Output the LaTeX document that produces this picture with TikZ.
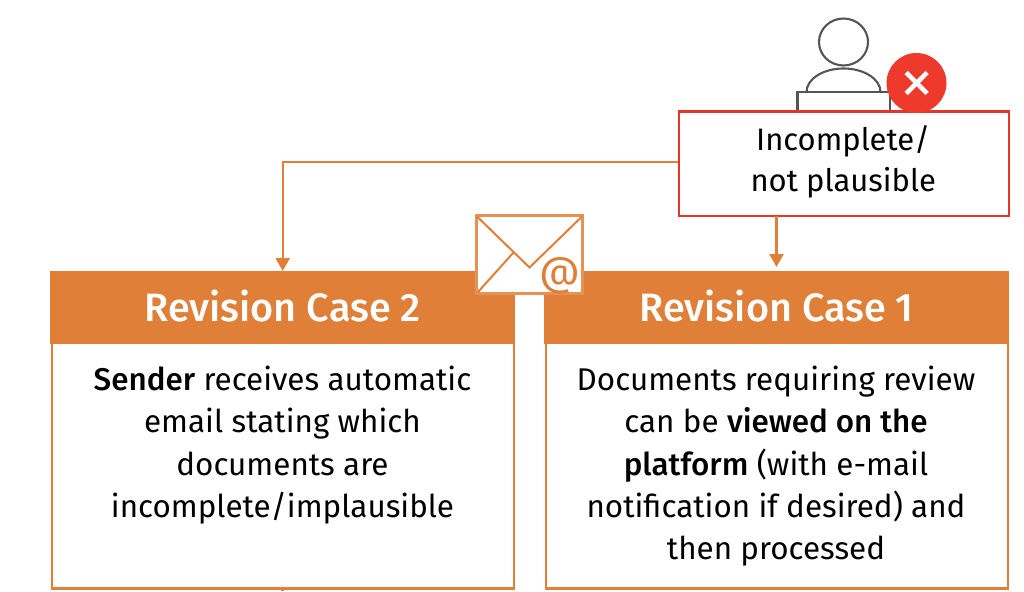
\documentclass[tikz,border=0pt]{standalone}
\usepackage{fontspec}
\setmainfont[BoldFont=* Medium]{Fira Sans}
\definecolor{org}{HTML}{E07F38}
\definecolor{redb}{HTML}{E5352B}
\definecolor{redc}{HTML}{EE3A2C}
\definecolor{gry}{HTML}{555555}
\usetikzlibrary{arrows.meta}
\newcommand{\liftup}[1]{\raisebox{2pt}[\height][\depth]{#1}}
\tikzset{
 bodybox/.style={draw=org,line width=2.8pt,fill=white,anchor=north west,minimum width=462pt,minimum height=315pt,inner sep=0pt},
 headbox/.style={fill=org,text=white,anchor=north west,minimum width=465pt,minimum height=73pt,inner sep=0pt,font=\fontsize{39.6}{42}\selectfont\bfseries},
 bodytext/.style={align=center,font=\fontsize{31.4}{42.3}\selectfont,text=black,inner sep=0pt,anchor=north},
 conn/.style={draw=org,line width=2.4pt},
 tip/.style={-{Stealth[length=13pt,width=14pt,inset=0pt]}},
 iconline/.style={draw=gry,line width=2.1pt},
}
\begin{document}
\begin{tikzpicture}[x=1pt,y=-1pt]
\useasboundingbox (0,0) rectangle (1024,591);
% person
\draw[iconline] (843.5,42) ellipse (24.5 and 23.5);
\draw[iconline] (806.5,92) arc[start angle=180,end angle=360,x radius=37,y radius=23.5];
\draw[iconline] (797.5,110) -- (797.5,92) -- (890,92) -- (890,110);
% boxes
\node[bodybox] (b2) at (50.5,272) {};
\node[bodybox] (b1) at (544.5,272) {};
\node[headbox] (h2) at (50,271) {\liftup{Revision Case 2}};
\node[headbox] (h1) at (544,271) {\liftup{Revision Case 1}};
\node[bodytext] (t2) at (282.5,366) {\textbf{Sender} receives automatic\\email stating which\\documents are\\incomplete/implausible};
\node[bodytext] (t1) at (776,366) {Documents requiring review\\can be \textbf{viewed on the}\\\textbf{platform} (with e-mail\\notification if desired) and\\then processed};
% bottom stub
\coordinate (s1a) at (282.5,587); \coordinate (s1b) at (282.5,591);
\draw[conn] (s1a) -- (s1b);
% top box
\node[draw=redb,line width=2.4pt,fill=white,anchor=north west,minimum width=330pt,minimum height=104pt,inner sep=0pt,align=center,font=\fontsize{31}{42.3}\selectfont] (top) at (678,110.5) {\liftup{Incomplete/\hspace{2pt}}\\[-0.5pt]\liftup{not plausible\hspace{2pt}}};
% red badge
\node[circle,fill=redc,minimum size=60pt,inner sep=0pt] (x) at (916.5,83) {};
\draw[white,line width=4.6pt] (906,72.5) -- (927,93.5) (927,72.5) -- (906,93.5);
% connectors
\coordinate (c2) at (top.west |- 0,162);
\draw[conn,tip] (c2) -| (h2.north);
\coordinate (c1a) at (776.5,216); \coordinate (c1b) at (776.5,267);
\draw[conn,tip] (c1a) -- (c1b);
% envelope
\node[draw=org!85!white,line width=2.4pt,fill=white,minimum width=106pt,minimum height=78pt,inner sep=0pt] (env) at (529.5,254.5) {};
\coordinate (env1) at (477,216.5); \coordinate (env2) at (582,216.5); \coordinate (envv) at (529.5,267.5);
\draw[org,line width=2pt] (env1) -- (envv) -- (env2);
\coordinate (envc) at (513.5,252.5); \coordinate (envd) at (478,292);
\draw[org,line width=2pt] (envc) -- (envd);
\node[text=org,font=\fontsize{40}{40}\selectfont,inner sep=0pt] (at) at (560,276) {@};
\end{tikzpicture}
\end{document}
